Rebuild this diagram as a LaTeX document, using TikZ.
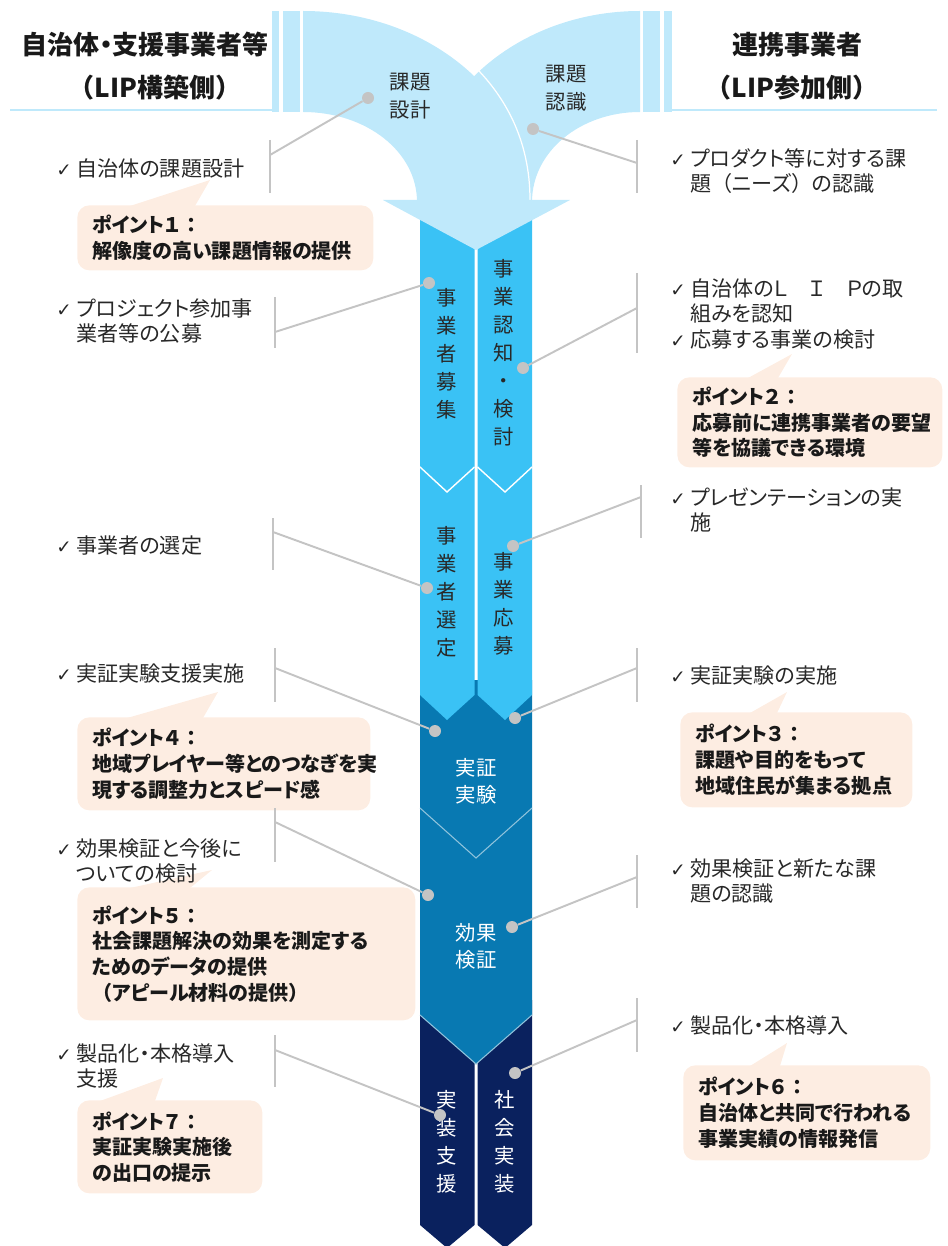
\documentclass[tikz,border=0pt]{standalone}
\usepackage{fontspec}
\setmainfont{Noto Sans CJK JP}[RawFeature=+palt]
\newfontfamily\fullw{Noto Sans CJK JP}
\newfontfamily\symfont{DejaVu Sans}
\usetikzlibrary{positioning}
\definecolor{sky}{RGB}{191,233,251}
\definecolor{cyanbar}{RGB}{58,194,245}
\definecolor{midblue}{RGB}{8,121,178}
\definecolor{navy}{RGB}{10,33,94}
\definecolor{peach}{RGB}{253,237,226}
\definecolor{linegray}{RGB}{196,196,196}
\definecolor{ink}{RGB}{40,40,40}
\newcommand{\chk}{\makebox[0.4cm][l]{\symfont\fontsize{10.5}{10}\selectfont ✓}}
\newcommand{\ind}{\hspace*{0.4cm}}

\begin{document}
\begin{tikzpicture}[
    x=0.02cm, y=-0.02cm,
    head/.style={inner sep=0pt, text=black!90, font=\bfseries\fontsize{14.8}{18}\selectfont},
    item/.style={anchor=north west, inner sep=0pt, align=left, text=ink, font=\fontsize{12}{14.5}\selectfont},
    coltext/.style={inner sep=0pt, align=center, text=ink, font=\fontsize{11.6}{15.9}\selectfont},
    bubble/.style={anchor=north west, fill=peach, rounded corners=0.24cm, inner xsep=0.3cm, inner ysep=0pt, align=left, text=black!90, font=\bfseries\fontsize{11.4}{14.6}\selectfont},
    dot/.style={circle, fill=linegray, inner sep=0pt, minimum size=0.24cm},
    link/.style={draw=linegray, line width=1.1pt},
    seam/.style={draw=white, line width=0.8pt}
]
\useasboundingbox (0,0) rectangle (947,1246);

% header rules and bars
\draw[sky, line width=1.4pt] (10,110) -- (272,110);
\draw[sky, line width=1.4pt] (672,110) -- (937,110);
\fill[sky] (272,11) rectangle (279,112);
\fill[sky] (283,11) rectangle (300,112);
\fill[sky] (643,11) rectangle (660,112);
\fill[sky] (664,11) rectangle (672,112);

% columns
\fill[navy] (420,1000) -- (474.5,1000) -- (474.5,1225) -- (447,1248) -- (420,1225) -- cycle;
\fill[navy] (477.5,1000) -- (532,1000) -- (532,1225) -- (505,1248) -- (477.5,1225) -- cycle;
\fill[midblue] (420,680) -- (532,680) -- (532,1015) -- (476,1064) -- (420,1015) -- cycle;
\draw[white!55!midblue, line width=0.6pt] (420,1015) -- (476,1064) -- (532,1015);
\draw[white!55!midblue, line width=0.6pt] (420,808) -- (476,858) -- (532,808);
\fill[cyanbar] (420,212) -- (474.5,212) -- (474.5,695) -- (447,720) -- (420,695) -- cycle;
\fill[cyanbar] (477.5,212) -- (532,212) -- (532,695) -- (505,720) -- (477.5,695) -- cycle;
\draw[seam] (420,467) -- (447,492) -- (474.5,467);
\draw[seam] (477.5,467) -- (505,492) -- (532,467);

% merging arrows
\fill[sky] (640,11) .. controls (518.5,11) and (420,95.6) .. (420,202) -- (532,202)
    .. controls (532,151.4) and (580.4,112) .. (640,112) -- cycle;
\fill[sky] (303,11) .. controls (428.4,11) and (530,95.6) .. (530,202) -- (417,202)
    .. controls (417,151.4) and (366,112) .. (303,112) -- cycle;
\draw[white, line width=0.7pt] (470,62) .. controls (505,95) and (530,140) .. (530,200);
\fill[sky] (383,200) -- (570,200) -- (476,250) -- cycle;

% headers
\node[head] (lhead) at (145,45) {自治体・支援事業者等};
\node[head] (lsub) at (155,88) {\fullw （LIP構築側）};
\node[head] (rhead) at (797,45) {連携事業者};
\node[head] (rsub) at (792,88) {\fullw （LIP参加側）};

% stage labels
\node[coltext] (design) at (410,96.5) {課題\\設計};
\node[coltext] (aware) at (566,88.5) {課題\\認識};
\node[coltext] (recruit) at (447,354) {事\\業\\者\\募\\集};
\node[coltext] (review) at (504,352.5) {事\\業\\認\\知\\・\\検\\討};
\node[coltext] (select) at (447,592) {事\\業\\者\\選\\定};
\node[coltext] (apply) at (504,604) {事\\業\\応\\募};
\node[coltext, text=white, font=\fontsize{11.6}{15.4}\selectfont] (trial) at (476,781.5) {実証\\実験};
\node[coltext, text=white, font=\fontsize{11.6}{15.4}\selectfont] (verify) at (476,946) {効果\\検証};
\node[coltext, text=white] (impl) at (447,1142) {実\\装\\支\\援};
\node[coltext, text=white] (social) at (505,1142) {社\\会\\実\\装};

% points
\fill[peach] (130,206) -- (210,180) -- (195,206) -- cycle;
\node[bubble, minimum width=5.92cm, minimum height=1.3cm, text width=5.32cm] (p1) at (77,205)
    {ポイント１ ：\\解像度の高い課題情報の提供};
\fill[peach] (748,378) -- (792,354) -- (778,378) -- cycle;
\node[bubble, minimum width=5.3cm, minimum height=1.8cm, text width=4.7cm] (p2) at (677,377)
    {ポイント２ ：\\応募前に連携事業者の要望\\等を協議できる環境};
\fill[peach] (750,713) -- (787,692) -- (777,713) -- cycle;
\node[bubble, minimum width=4.64cm, minimum height=1.9cm, text width=4.04cm] (p3) at (680,712)
    {ポイント３ ：\\課題や目的をもって\\地域住民が集まる拠点};
\fill[peach] (127,718) -- (218,692) -- (203,718) -- cycle;
\node[bubble, minimum width=5.86cm, minimum height=1.86cm, text width=5.26cm] (p4) at (77,717)
    {ポイント４ ：\\地域プレイヤー等とのつなぎを実\\現する調整力とスピード感};
\fill[peach] (130,888) -- (212,870) -- (190,888) -- cycle;
\node[bubble, minimum width=6.76cm, minimum height=2.66cm, text width=6.16cm] (p5) at (77,887)
    {ポイント５ ：\\社会課題解決の効果を測定する\\ためのデータの提供\\{\fullw （}アピール材料の提供{\fullw ）}};
\fill[peach] (750,1066) -- (787,1043) -- (780,1066) -- cycle;
\node[bubble, minimum width=4.94cm, minimum height=1.9cm, text width=4.34cm] (p6) at (683,1065)
    {ポイント６ ：\\自治体と共同で行われる\\事業実績の情報発信};
\fill[peach] (100,1101) -- (163,1078) -- (155,1101) -- cycle;
\node[bubble, minimum width=3.7cm, minimum height=1.86cm, text width=3.1cm] (p7) at (77,1100)
    {ポイント７ ：\\実証実験実施後\\の出口の提示};

% items, left side
\node[item] (t1) at (56,158) {\chk 自治体の課題設計};
\node[item] (t3) at (56,298) {\chk プロジェクト参加事\\\ind 業者等の公募};
\node[item] (t5) at (56,535) {\chk 事業者の選定};
\node[item] (t7) at (56,663) {\chk 実証実験支援実施};
\node[item] (t9) at (56,838) {\chk 効果検証と今後に\\\ind ついての検討};
\node[item] (t11) at (56,1043) {\chk 製品化・本格導入\\\ind 支援};

% items, right side
\node[item] (t2) at (670,148) {\chk プロダクト等に対する課\\\ind 題{\fullw （}ニーズ{\fullw ）}の認識};
\node[item] (t4) at (670,278) {\chk 自治体のＬ　Ｉ　Ｐの取\\\ind 組みを認知\\\chk 応募する事業の検討};
\node[item] (t6) at (670,487) {\chk プレゼンテーションの実\\\ind 施};
\node[item] (t8) at (670,665) {\chk 実証実験の実施};
\node[item] (t10) at (670,858) {\chk 効果検証と新たな課\\\ind 題の認識};
\node[item] (t12) at (670,1015) {\chk 製品化・本格導入};

% dots on the flow
\node[dot] (d1) at (368,98) {};
\node[dot] (d2) at (533,129) {};
\node[dot] (d3) at (429,283) {};
\node[dot] (d4) at (523,368) {};
\node[dot] (d5) at (427,588) {};
\node[dot] (d6) at (513,546) {};
\node[dot] (d7) at (435,731) {};
\node[dot] (d8) at (515,718) {};
\node[dot] (d9) at (428,895) {};
\node[dot] (d10) at (512,927) {};
\node[dot] (d11) at (440,1115) {};
\node[dot] (d12) at (515,1073) {};

% brackets
\coordinate (j1) at (270,155);
\coordinate (j2) at (637,163);
\coordinate (j3) at (275,332);
\coordinate (j4) at (637,308);
\coordinate (j5) at (273,532);
\coordinate (j6) at (641,497);
\coordinate (j7) at (275,668);
\coordinate (j8) at (637,668);
\coordinate (j9) at (275,822);
\coordinate (j10) at (637,877);
\coordinate (j11) at (275,1050);
\coordinate (j12) at (637,1020);
\draw[link] (270,140) -- (270,193);
\draw[link] (637,140) -- (637,193);
\draw[link] (275,297) -- (275,348);
\draw[link] (637,273) -- (637,353);
\draw[link] (273,518) -- (273,570);
\draw[link] (641,485) -- (641,538);
\draw[link] (275,648) -- (275,702);
\draw[link] (637,648) -- (637,702);
\draw[link] (275,808) -- (275,862);
\draw[link] (637,855) -- (637,908);
\draw[link] (275,1035) -- (275,1087);
\draw[link] (637,998) -- (637,1052);

\draw[link] (j1) -- (d1);
\draw[link] (j2) -- (d2);
\draw[link] (j3) -- (d3);
\draw[link] (j4) -- (d4);
\draw[link] (j5) -- (d5);
\draw[link] (j6) -- (d6);
\draw[link] (j7) -- (d7);
\draw[link] (j8) -- (d8);
\draw[link] (j9) -- (d9);
\draw[link] (j10) -- (d10);
\draw[link] (j11) -- (d11);
\draw[link] (j12) -- (d12);

\end{tikzpicture}
\end{document}
